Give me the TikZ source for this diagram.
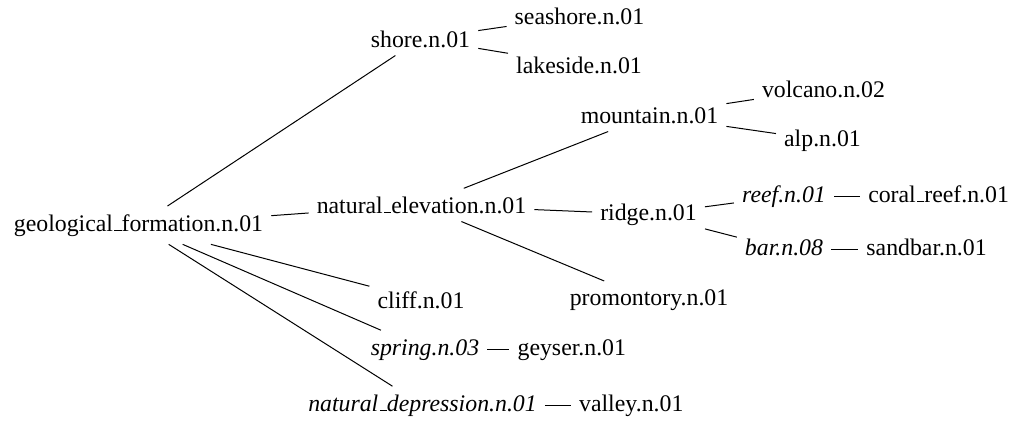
\documentclass[tikz,border=0pt]{standalone}
\usepackage{fontspec}
\setmainfont{Liberation Serif}
\usetikzlibrary{positioning}
\newcommand{\usc}{\leavevmode\kern.06em\vbox{\hrule height .9pt width.3em}}

\begin{document}
\begin{tikzpicture}[x=1pt, y=-1pt,
    syn/.style={inner sep=8pt, anchor=base, font=\fontsize{23.8}{28}\selectfont},
    hyp/.style={syn, font=\fontsize{23.8}{28}\selectfont\itshape},
    pair/.style={text height=16.6pt, text depth=5.2pt},
    edge/.style={line width=1pt},
  ]
    \useasboundingbox (0,0) rectangle (1011,421);

    \node[syn] (geo) at (138.5,231) {geological\usc formation.n.01};

    \node[syn] (shore) at (420.5,47) {shore.n.01};
    \node[syn] (seashore) at (579.5,24) {seashore.n.01};
    \node[syn] (lakeside) at (579,73) {lakeside.n.01};

    \node[syn] (natel) at (421.5,213) {natural\usc elevation.n.01};
    \node[syn] (mountain) at (649.5,123) {mountain.n.01};
    \node[syn] (volcano) at (823.5,97) {volcano.n.02};
    \node[syn] (alp) at (822.5,146) {alp.n.01};
    \node[syn] (ridge) at (648.5,220) {ridge.n.01};
    \node[hyp, pair] (reef) at (784,202) {reef.n.01};
    \node[syn, pair, base right=26pt of reef] (coralreef) {coral\usc reef.n.01};
    \node[hyp, pair] (bar) at (784,255) {bar.n.08};
    \node[syn, pair, base right=27pt of bar] (sandbar) {sandbar.n.01};
    \node[syn] (promontory) at (649,305) {promontory.n.01};

    \node[syn] (cliff) at (421,308) {cliff.n.01};
    \node[hyp, pair] (spring) at (425,355) {spring.n.03};
    \node[syn, pair, base right=22pt of spring] (geyser) {geyser.n.01};
    \node[hyp, pair] (natdep) at (422.5,411) {natural\usc depression.n.01};
    \node[syn, pair, base right=26pt of natdep] (valley) {valley.n.01};

    \draw[edge] (geo) -- (shore);
    \draw[edge] (geo) -- (natel);
    \draw[edge] (geo) -- (cliff);
    \draw[edge] (geo) -- (spring);
    \draw[edge] (geo) -- (natdep);

    \draw[edge] (shore) -- (seashore);
    \draw[edge] (shore) -- (lakeside);

    \draw[edge] (natel) -- (mountain);
    \draw[edge] (natel) -- (ridge);
    \draw[edge] (natel) -- (promontory);
    \draw[edge] (mountain) -- (volcano);
    \draw[edge] (mountain) -- (alp);
    \draw[edge] (ridge) -- (reef);
    \draw[edge] (ridge) -- (bar);

    \draw[edge] (reef) -- (coralreef);
    \draw[edge] (bar) -- (sandbar);
    \draw[edge] (spring) -- (geyser);
    \draw[edge] (natdep) -- (valley);
  \end{tikzpicture}
\end{document}
